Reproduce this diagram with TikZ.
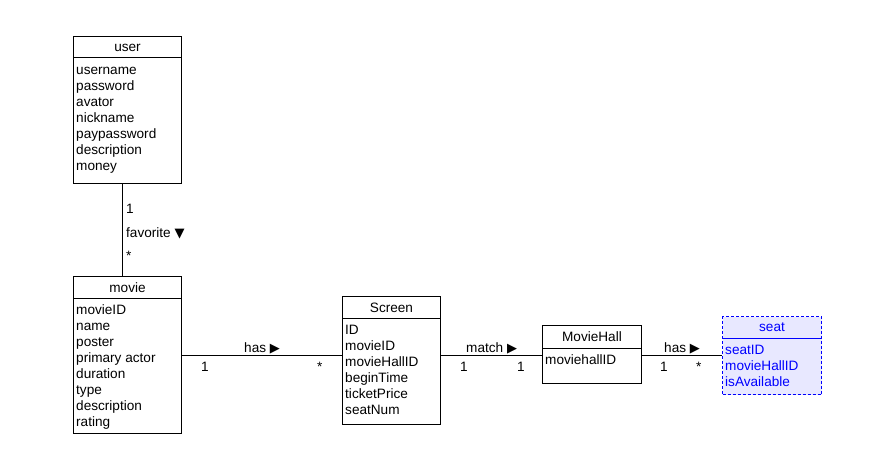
\documentclass[tikz,border=0pt]{standalone}
\usepackage{fontspec}
\setmainfont{Liberation Sans}
\newfontfamily\symfont{DejaVu Sans}
\usetikzlibrary{calc}

\definecolor{seatblue}{RGB}{0,0,255}
\definecolor{seatfill}{RGB}{232,232,255}

\newcommand{\tri}[1]{{\symfont\fontsize{13}{16}\selectfont#1}}

\begin{document}
\begin{tikzpicture}[x=1pt, y=-1pt,
	every node/.style={font=\fontsize{13.6}{16}\selectfont, inner sep=0pt},
	classbox/.style={draw, line width=1pt, anchor=north west},
	title/.style={anchor=center},
	attrs/.style={anchor=north west, align=left},
	lbl/.style={anchor=base west},
	seatbox/.style={classbox, draw=seatblue, fill=seatfill, dash pattern=on 3pt off 2pt}]

\useasboundingbox (0,0) rectangle (883,457);

% classes %{{{2

	% user
	\node[classbox, minimum width=108pt, minimum height=147pt] (user) at (73,36) {};
	\node[title] (user-title) at ($(user.north)+(0,11.5)$) {user};
	\draw[line width=1pt] ($(user.north west)+(0,22)$) -- ($(user.north east)+(0,22)$);
	\node[attrs] (user-attrs) at ($(user.north west)+(3,27)$)
		{\strut username\\password\\avator\\nickname\\paypassword\\description\\money};

	% movie
	\node[classbox, minimum width=108pt, minimum height=157pt] (movie) at (73,276) {};
	\node[title] (movie-title) at ($(movie.north)+(0,11.5)$) {movie};
	\draw[line width=1pt] ($(movie.north west)+(0,22)$) -- ($(movie.north east)+(0,22)$);
	\node[attrs] (movie-attrs) at ($(movie.north west)+(3,27)$)
		{\strut movieID\\name\\poster\\primary actor\\duration\\type\\description\\rating};

	% Screen
	\node[classbox, minimum width=98pt, minimum height=128pt] (screen) at (342,296) {};
	\node[title] (screen-title) at ($(screen.north)+(0,11.5)$) {Screen};
	\draw[line width=1pt] ($(screen.north west)+(0,22)$) -- ($(screen.north east)+(0,22)$);
	\node[attrs] (screen-attrs) at ($(screen.north west)+(3,27)$)
		{\strut ID\\movieID\\movieHallID\\beginTime\\ticketPrice\\seatNum};

	% MovieHall
	\node[classbox, minimum width=99pt, minimum height=58pt] (hall) at (542,325) {};
	\node[title] (hall-title) at ($(hall.north)+(0,12)$) {MovieHall};
	\draw[line width=1pt] ($(hall.north west)+(0,23)$) -- ($(hall.north east)+(0,23)$);
	\node[attrs] (hall-attrs) at ($(hall.north west)+(3,28)$) {\strut moviehallID};

	% seat
	\node[seatbox, minimum width=99pt, minimum height=78pt] (seat) at (722,316) {};
	\node[title, text=seatblue] (seat-title) at ($(seat.north)+(0,11.5)$) {seat};
	\draw[line width=1pt, seatblue] ($(seat.north west)+(0,22)$) -- ($(seat.north east)+(0,22)$);
	\node[attrs, text=seatblue] (seat-attrs) at ($(seat.north west)+(3,27)$)
		{\strut seatID\\movieHallID\\isAvailable};

% associations %{{{2

	\coordinate (row) at (0,355);

	\draw[line width=1pt] ([xshift=-5pt]user.south) -- ([xshift=-5pt]movie.north);
	\draw[line width=1pt] (movie.east |- row) -- (screen.west |- row);
	\draw[line width=1pt] (screen.east |- row) -- (hall.west |- row);
	\draw[line width=1pt] (hall.east |- row) -- (seat.west |- row);

% association labels %{{{2

	% user -- movie
	\node[lbl] (fav-one)  at (126,214) {1};
	\node[lbl] (fav-name) at (126,237) {favorite \tri{▼}};
	\node[lbl] (fav-many) at (126,260) {*};

	% movie -- Screen
	\node[lbl] (has-name) at (244,352) {has \tri{▶}};
	\node[lbl] (has-one)  at (201,371) {1};
	\node[lbl] (has-many) at (317,371) {*};

	% Screen -- MovieHall
	\node[lbl] (match-name) at (466,352) {match \tri{▶}};
	\node[lbl] (match-one)  at (460,371) {1};
	\node[lbl] (match-two)  at (517,371) {1};

	% MovieHall -- seat
	\node[lbl] (seat-name) at (664,352) {has \tri{▶}};
	\node[lbl] (seat-one)  at (660,371) {1};
	\node[lbl] (seat-many) at (696,371) {*};

% closing %{{{2

\end{tikzpicture}
\end{document}
